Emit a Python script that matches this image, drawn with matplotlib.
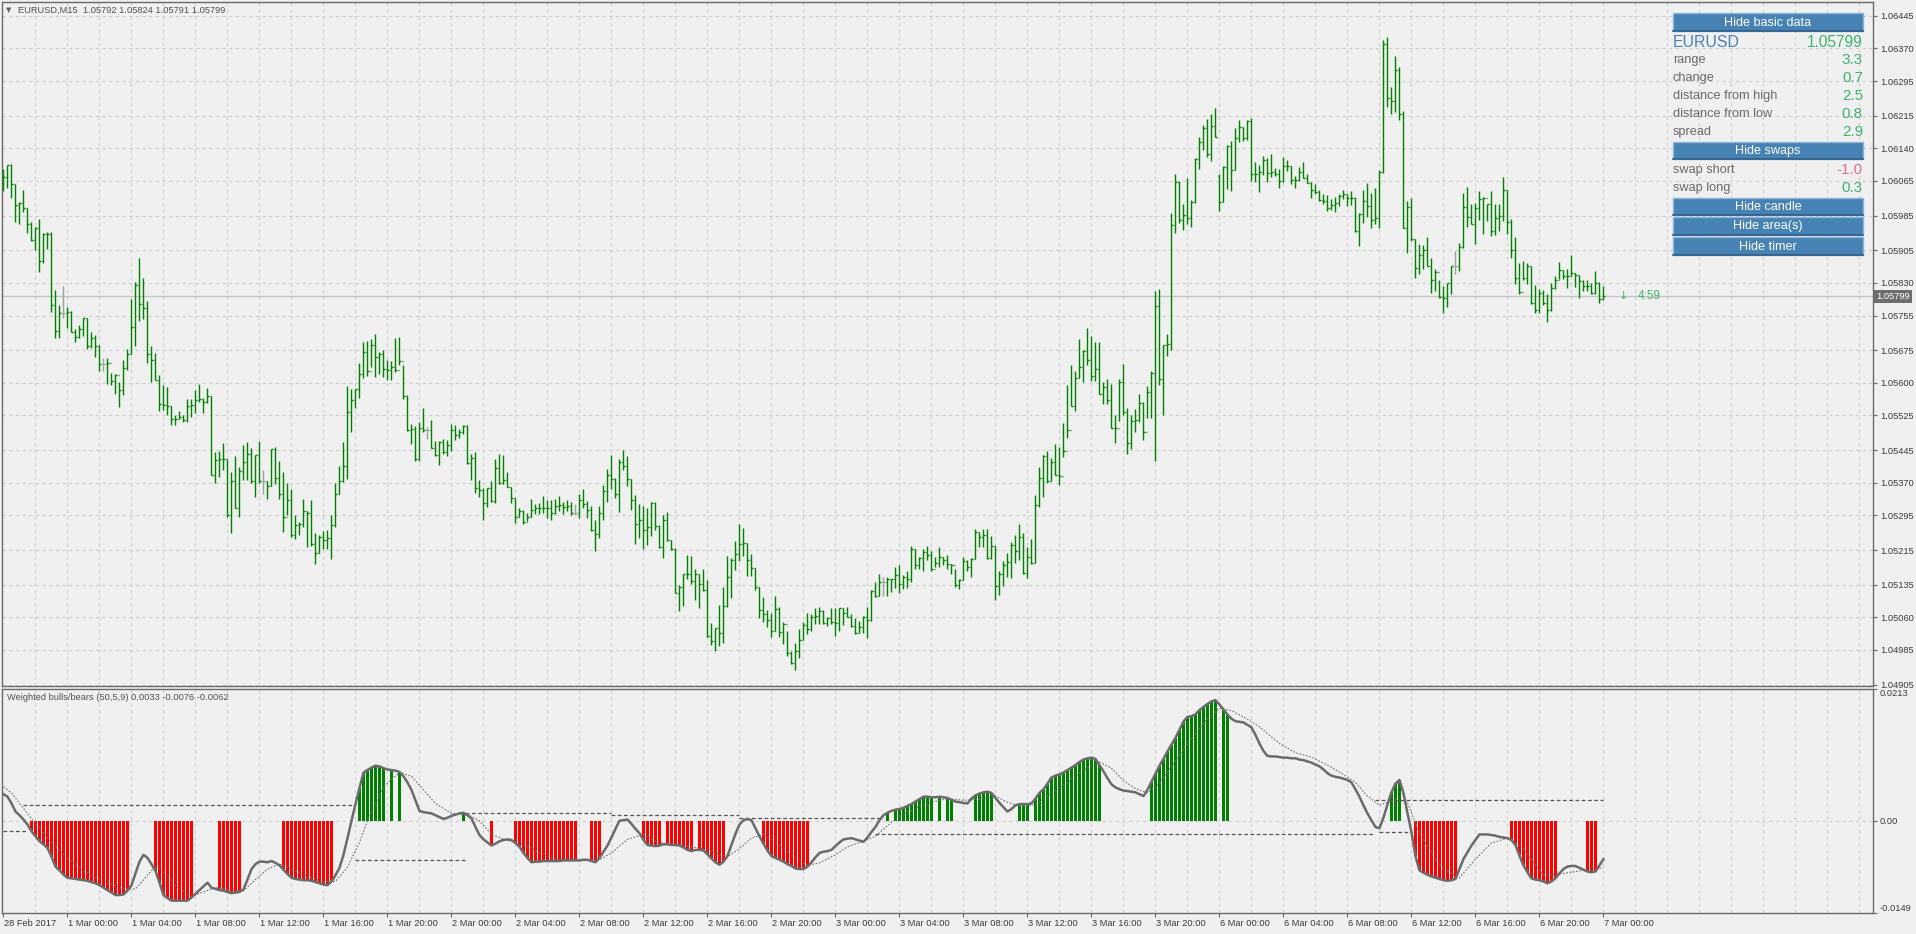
import matplotlib
matplotlib.use("Agg")
import matplotlib.pyplot as plt
import matplotlib.transforms as mtrans
from matplotlib.collections import LineCollection
from matplotlib.patches import Rectangle
import numpy as np

plt.rcParams['font.family'] = ['Liberation Sans', 'DejaVu Sans']

# ---------------- DATA ----------------
# EURUSD M15 bars, 28 Feb 2017 20:00 .. 7 Mar 2017 00:00 (one value per bar)
highs = [
    1.06092, 1.06101, 1.06103, 1.06059, 1.06016, 1.06044, 1.06002, 1.05970, 1.05958, 1.05977, 1.05944, 1.05947, 1.05947, 1.05814, 1.05779, 1.05823, 1.05774, 1.05766, 1.05724, 1.05733,
    1.05749, 1.05749, 1.05716, 1.05710, 1.05687, 1.05657, 1.05657, 1.05622, 1.05620, 1.05601, 1.05653, 1.05677, 1.05793, 1.05832, 1.05888, 1.05842, 1.05789, 1.05685, 1.05668, 1.05618,
    1.05595, 1.05591, 1.05547, 1.05526, 1.05536, 1.05525, 1.05563, 1.05562, 1.05584, 1.05597, 1.05565, 1.05588, 1.05570, 1.05440, 1.05442, 1.05461, 1.05424, 1.05394, 1.05432, 1.05407,
    1.05456, 1.05463, 1.05451, 1.05434, 1.05465, 1.05400, 1.05374, 1.05448, 1.05452, 1.05420, 1.05395, 1.05369, 1.05356, 1.05295, 1.05279, 1.05333, 1.05304, 1.05331, 1.05254, 1.05250,
    1.05258, 1.05262, 1.05296, 1.05369, 1.05409, 1.05463, 1.05593, 1.05585, 1.05585, 1.05645, 1.05693, 1.05697, 1.05701, 1.05712, 1.05672, 1.05676, 1.05653, 1.05651, 1.05703, 1.05705,
    1.05640, 1.05573, 1.05506, 1.05500, 1.05509, 1.05541, 1.05499, 1.05514, 1.05466, 1.05466, 1.05470, 1.05468, 1.05505, 1.05502, 1.05493, 1.05502, 1.05502, 1.05437, 1.05441, 1.05376,
    1.05357, 1.05357, 1.05374, 1.05424, 1.05437, 1.05433, 1.05394, 1.05361, 1.05336, 1.05313, 1.05308, 1.05301, 1.05332, 1.05321, 1.05324, 1.05339, 1.05330, 1.05330, 1.05332, 1.05339,
    1.05325, 1.05330, 1.05325, 1.05321, 1.05345, 1.05355, 1.05328, 1.05317, 1.05284, 1.05317, 1.05364, 1.05401, 1.05433, 1.05381, 1.05424, 1.05446, 1.05431, 1.05378, 1.05341, 1.05322,
    1.05316, 1.05312, 1.05325, 1.05325, 1.05272, 1.05295, 1.05302, 1.05239, 1.05220, 1.05134, 1.05161, 1.05203, 1.05201, 1.05171, 1.05161, 1.05171, 1.05146, 1.05048, 1.05036, 1.05088,
    1.05129, 1.05201, 1.05196, 1.05236, 1.05275, 1.05265, 1.05232, 1.05205, 1.05173, 1.05129, 1.05106, 1.05078, 1.05071, 1.05109, 1.05083, 1.05050, 1.05029, 1.04983, 1.05002, 1.05033,
    1.05050, 1.05069, 1.05068, 1.05082, 1.05085, 1.05077, 1.05062, 1.05081, 1.05081, 1.05082, 1.05082, 1.05085, 1.05067, 1.05059, 1.05052, 1.05064, 1.05085, 1.05123, 1.05141, 1.05161,
    1.05152, 1.05154, 1.05148, 1.05177, 1.05180, 1.05157, 1.05167, 1.05225, 1.05218, 1.05199, 1.05218, 1.05225, 1.05214, 1.05200, 1.05223, 1.05200, 1.05203, 1.05184, 1.05172, 1.05149,
    1.05199, 1.05193, 1.05197, 1.05264, 1.05256, 1.05264, 1.05264, 1.05248, 1.05225, 1.05167, 1.05190, 1.05208, 1.05233, 1.05249, 1.05276, 1.05254, 1.05223, 1.05241, 1.05342, 1.05407,
    1.05433, 1.05442, 1.05427, 1.05460, 1.05453, 1.05507, 1.05595, 1.05641, 1.05628, 1.05701, 1.05676, 1.05726, 1.05708, 1.05695, 1.05693, 1.05602, 1.05608, 1.05598, 1.05525, 1.05609,
    1.05643, 1.05542, 1.05526, 1.05540, 1.05574, 1.05555, 1.05593, 1.05628, 1.05812, 1.05816, 1.05687, 1.05712, 1.05992, 1.06081, 1.06065, 1.06012, 1.06072, 1.06021, 1.06118, 1.06165,
    1.06193, 1.06207, 1.06219, 1.06232, 1.06081, 1.06099, 1.06147, 1.06157, 1.06186, 1.06205, 1.06190, 1.06206, 1.06209, 1.06108, 1.06101, 1.06122, 1.06118, 1.06126, 1.06094, 1.06092,
    1.06119, 1.06113, 1.06099, 1.06076, 1.06098, 1.06108, 1.06082, 1.06063, 1.06059, 1.06044, 1.06036, 1.06032, 1.06023, 1.06027, 1.06035, 1.06045, 1.06036, 1.06042, 1.06028, 1.05990,
    1.06044, 1.06061, 1.06038, 1.06049, 1.06091, 1.06389, 1.06397, 1.06282, 1.06352, 1.06328, 1.06226, 1.06019, 1.06025, 1.05931, 1.05920, 1.05917, 1.05935, 1.05887, 1.05862, 1.05837,
    1.05823, 1.05831, 1.05870, 1.05904, 1.05921, 1.06038, 1.06050, 1.06012, 1.06015, 1.06042, 1.06027, 1.06013, 1.06042, 1.06013, 1.06011, 1.06075, 1.06044, 1.05977, 1.05935, 1.05877,
    1.05881, 1.05877, 1.05869, 1.05825, 1.05816, 1.05814, 1.05804, 1.05829, 1.05845, 1.05878, 1.05861, 1.05862, 1.05894, 1.05854, 1.05848, 1.05837, 1.05837, 1.05831, 1.05858, 1.05833,
    1.05824,
]
lows = [
    1.06042, 1.06049, 1.06025, 1.05971, 1.05965, 1.05993, 1.05946, 1.05927, 1.05907, 1.05856, 1.05875, 1.05909, 1.05764, 1.05704, 1.05704, 1.05750, 1.05727, 1.05716, 1.05693, 1.05704,
    1.05709, 1.05677, 1.05681, 1.05660, 1.05628, 1.05628, 1.05597, 1.05595, 1.05574, 1.05545, 1.05571, 1.05629, 1.05666, 1.05686, 1.05743, 1.05747, 1.05645, 1.05601, 1.05607, 1.05536,
    1.05537, 1.05525, 1.05503, 1.05502, 1.05517, 1.05509, 1.05511, 1.05522, 1.05530, 1.05555, 1.05530, 1.05553, 1.05387, 1.05369, 1.05384, 1.05400, 1.05292, 1.05254, 1.05311, 1.05292,
    1.05377, 1.05377, 1.05369, 1.05337, 1.05369, 1.05344, 1.05333, 1.05363, 1.05367, 1.05333, 1.05256, 1.05295, 1.05246, 1.05241, 1.05250, 1.05269, 1.05223, 1.05225, 1.05183, 1.05208,
    1.05218, 1.05217, 1.05194, 1.05267, 1.05344, 1.05371, 1.05379, 1.05488, 1.05542, 1.05565, 1.05612, 1.05616, 1.05637, 1.05614, 1.05621, 1.05614, 1.05607, 1.05607, 1.05626, 1.05641,
    1.05562, 1.05489, 1.05459, 1.05420, 1.05420, 1.05486, 1.05470, 1.05449, 1.05432, 1.05410, 1.05436, 1.05431, 1.05443, 1.05468, 1.05472, 1.05482, 1.05414, 1.05376, 1.05347, 1.05338,
    1.05284, 1.05315, 1.05325, 1.05324, 1.05366, 1.05367, 1.05361, 1.05324, 1.05278, 1.05290, 1.05275, 1.05282, 1.05292, 1.05299, 1.05299, 1.05301, 1.05289, 1.05285, 1.05299, 1.05305,
    1.05299, 1.05305, 1.05295, 1.05295, 1.05289, 1.05312, 1.05289, 1.05259, 1.05213, 1.05243, 1.05285, 1.05326, 1.05355, 1.05336, 1.05303, 1.05399, 1.05362, 1.05307, 1.05230, 1.05243,
    1.05217, 1.05226, 1.05248, 1.05261, 1.05220, 1.05197, 1.05236, 1.05215, 1.05115, 1.05075, 1.05087, 1.05148, 1.05137, 1.05101, 1.05082, 1.05121, 1.05015, 1.04996, 1.04983, 1.04994,
    1.05002, 1.05085, 1.05105, 1.05169, 1.05190, 1.05202, 1.05155, 1.05155, 1.05123, 1.05059, 1.05050, 1.05037, 1.05015, 1.05029, 1.05015, 1.04999, 1.04972, 1.04952, 1.04939, 1.04967,
    1.05008, 1.05022, 1.05029, 1.05045, 1.05045, 1.05044, 1.05041, 1.05044, 1.05018, 1.05029, 1.05042, 1.05060, 1.05037, 1.05022, 1.05025, 1.05025, 1.05013, 1.05052, 1.05108, 1.05109,
    1.05109, 1.05110, 1.05118, 1.05128, 1.05116, 1.05126, 1.05128, 1.05141, 1.05171, 1.05171, 1.05167, 1.05193, 1.05166, 1.05175, 1.05175, 1.05181, 1.05171, 1.05160, 1.05131, 1.05125,
    1.05145, 1.05166, 1.05152, 1.05195, 1.05221, 1.05221, 1.05195, 1.05194, 1.05099, 1.05111, 1.05133, 1.05152, 1.05151, 1.05185, 1.05193, 1.05160, 1.05151, 1.05184, 1.05185, 1.05315,
    1.05338, 1.05369, 1.05373, 1.05387, 1.05365, 1.05430, 1.05474, 1.05546, 1.05536, 1.05612, 1.05603, 1.05640, 1.05605, 1.05605, 1.05574, 1.05552, 1.05551, 1.05496, 1.05461, 1.05513,
    1.05525, 1.05436, 1.05448, 1.05488, 1.05511, 1.05469, 1.05519, 1.05518, 1.05419, 1.05594, 1.05526, 1.05663, 1.05676, 1.05946, 1.05969, 1.05952, 1.05966, 1.05959, 1.06015, 1.06092,
    1.06137, 1.06121, 1.06111, 1.06167, 1.05996, 1.06017, 1.06046, 1.06042, 1.06090, 1.06155, 1.06157, 1.06159, 1.06065, 1.06063, 1.06040, 1.06078, 1.06063, 1.06075, 1.06077, 1.06049,
    1.06063, 1.06088, 1.06059, 1.06049, 1.06065, 1.06071, 1.06061, 1.06026, 1.06036, 1.06019, 1.06013, 1.05996, 1.05998, 1.05994, 1.06008, 1.06023, 1.06008, 1.06009, 1.05948, 1.05916,
    1.05969, 1.05982, 1.05957, 1.05965, 1.05957, 1.06084, 1.06236, 1.06220, 1.06224, 1.06205, 1.05956, 1.05898, 1.05927, 1.05841, 1.05850, 1.05862, 1.05869, 1.05806, 1.05812, 1.05795,
    1.05762, 1.05775, 1.05804, 1.05850, 1.05858, 1.05911, 1.05958, 1.05965, 1.05919, 1.05975, 1.05943, 1.05973, 1.05939, 1.05940, 1.05950, 1.05973, 1.05942, 1.05887, 1.05827, 1.05804,
    1.05838, 1.05827, 1.05781, 1.05760, 1.05762, 1.05779, 1.05741, 1.05766, 1.05815, 1.05839, 1.05839, 1.05819, 1.05845, 1.05820, 1.05796, 1.05812, 1.05812, 1.05805, 1.05805, 1.05785,
    1.05791,
]
closes = [
    1.06075, 1.06101, 1.06058, 1.06009, 1.06015, 1.06002, 1.05966, 1.05928, 1.05956, 1.05881, 1.05942, 1.05943, 1.05779, 1.05719, 1.05760, 1.05760, 1.05764, 1.05716, 1.05705, 1.05725,
    1.05749, 1.05685, 1.05703, 1.05685, 1.05643, 1.05643, 1.05645, 1.05604, 1.05618, 1.05584, 1.05635, 1.05666, 1.05729, 1.05825, 1.05781, 1.05772, 1.05666, 1.05652, 1.05607, 1.05551,
    1.05549, 1.05547, 1.05517, 1.05517, 1.05522, 1.05515, 1.05547, 1.05548, 1.05560, 1.05563, 1.05555, 1.05570, 1.05387, 1.05423, 1.05424, 1.05424, 1.05296, 1.05374, 1.05313, 1.05396,
    1.05417, 1.05436, 1.05373, 1.05434, 1.05373, 1.05373, 1.05363, 1.05447, 1.05382, 1.05344, 1.05292, 1.05331, 1.05249, 1.05273, 1.05275, 1.05304, 1.05301, 1.05229, 1.05208, 1.05244,
    1.05239, 1.05242, 1.05273, 1.05344, 1.05373, 1.05409, 1.05534, 1.05561, 1.05585, 1.05620, 1.05671, 1.05628, 1.05687, 1.05660, 1.05667, 1.05631, 1.05630, 1.05637, 1.05630, 1.05650,
    1.05570, 1.05491, 1.05493, 1.05424, 1.05495, 1.05491, 1.05491, 1.05451, 1.05435, 1.05463, 1.05440, 1.05456, 1.05492, 1.05479, 1.05487, 1.05501, 1.05416, 1.05428, 1.05359, 1.05353,
    1.05324, 1.05357, 1.05328, 1.05405, 1.05370, 1.05377, 1.05361, 1.05336, 1.05292, 1.05305, 1.05280, 1.05292, 1.05308, 1.05311, 1.05311, 1.05311, 1.05312, 1.05301, 1.05317, 1.05318,
    1.05315, 1.05316, 1.05301, 1.05301, 1.05330, 1.05322, 1.05308, 1.05262, 1.05251, 1.05301, 1.05351, 1.05389, 1.05378, 1.05345, 1.05418, 1.05409, 1.05378, 1.05331, 1.05275, 1.05285,
    1.05262, 1.05267, 1.05324, 1.05270, 1.05223, 1.05285, 1.05238, 1.05217, 1.05117, 1.05129, 1.05160, 1.05160, 1.05144, 1.05159, 1.05138, 1.05124, 1.05017, 1.05006, 1.05035, 1.05023,
    1.05086, 1.05154, 1.05193, 1.05207, 1.05230, 1.05232, 1.05193, 1.05173, 1.05129, 1.05078, 1.05068, 1.05054, 1.05029, 1.05079, 1.05027, 1.05045, 1.04977, 1.04954, 1.04983, 1.05009,
    1.05042, 1.05033, 1.05060, 1.05064, 1.05075, 1.05046, 1.05058, 1.05050, 1.05046, 1.05081, 1.05071, 1.05062, 1.05041, 1.05025, 1.05039, 1.05062, 1.05054, 1.05121, 1.05109, 1.05142,
    1.05142, 1.05148, 1.05149, 1.05157, 1.05137, 1.05153, 1.05148, 1.05217, 1.05181, 1.05197, 1.05210, 1.05203, 1.05171, 1.05185, 1.05199, 1.05193, 1.05184, 1.05180, 1.05135, 1.05147,
    1.05190, 1.05177, 1.05195, 1.05256, 1.05244, 1.05250, 1.05197, 1.05225, 1.05133, 1.05160, 1.05181, 1.05187, 1.05227, 1.05213, 1.05246, 1.05162, 1.05199, 1.05185, 1.05318, 1.05381,
    1.05432, 1.05375, 1.05417, 1.05388, 1.05386, 1.05442, 1.05492, 1.05547, 1.05611, 1.05636, 1.05674, 1.05653, 1.05615, 1.05632, 1.05574, 1.05590, 1.05561, 1.05496, 1.05496, 1.05602,
    1.05534, 1.05461, 1.05513, 1.05515, 1.05553, 1.05486, 1.05580, 1.05622, 1.05778, 1.05610, 1.05687, 1.05689, 1.05963, 1.06063, 1.05976, 1.05986, 1.05979, 1.06017, 1.06115, 1.06154,
    1.06187, 1.06126, 1.06191, 1.06167, 1.06017, 1.06098, 1.06145, 1.06091, 1.06163, 1.06190, 1.06163, 1.06203, 1.06081, 1.06082, 1.06086, 1.06114, 1.06084, 1.06086, 1.06080, 1.06065,
    1.06099, 1.06100, 1.06067, 1.06068, 1.06086, 1.06071, 1.06061, 1.06044, 1.06040, 1.06021, 1.06019, 1.06002, 1.06009, 1.06015, 1.06031, 1.06034, 1.06025, 1.06026, 1.05950, 1.05988,
    1.06019, 1.06007, 1.05975, 1.05980, 1.06086, 1.06380, 1.06255, 1.06249, 1.06320, 1.06218, 1.05957, 1.06006, 1.05931, 1.05865, 1.05894, 1.05906, 1.05870, 1.05837, 1.05856, 1.05797,
    1.05795, 1.05829, 1.05868, 1.05868, 1.05914, 1.06004, 1.05983, 1.05965, 1.06002, 1.06023, 1.06025, 1.06011, 1.05950, 1.05980, 1.05985, 1.06044, 1.05971, 1.05906, 1.05841, 1.05810,
    1.05841, 1.05868, 1.05783, 1.05768, 1.05806, 1.05785, 1.05768, 1.05818, 1.05838, 1.05861, 1.05845, 1.05846, 1.05854, 1.05848, 1.05835, 1.05824, 1.05823, 1.05808, 1.05831, 1.05792,
    1.05799,
]
first_open = 1.06060
monday_bar = 304          # 6 Mar 00:00, first bar after the weekend gap
monday_open = 1.06077
doji_bars = [15, 25, 65, 106, 143, 220, 363]   # open == close, drawn grey

# Weighted bulls/bears (50,5,9) main line, one value per bar, units of 0.0001
main_e4 = [
    43, 39, 28, 15, 9, 2, -6, -17, -25, -33, -38, -44, -58, -74, -80, -87, -92, -93, -94, -95,
    -96, -97, -99, -101, -104, -108, -112, -116, -120, -120, -119, -113, -104, -85, -66, -55, -60, -70, -81, -100,
    -120, -125, -129, -129, -129, -129, -129, -124, -118, -112, -106, -100, -108, -110, -112, -113, -115, -117, -116, -115,
    -111, -95, -78, -70, -66, -66, -67, -65, -68, -72, -79, -86, -92, -94, -95, -96, -96, -97, -99, -101,
    -103, -104, -98, -88, -76, -55, -28, 0, 27, 53, 78, 82, 86, 89, 88, 85, 83, 82, 81, 79,
    72, 62, 50, 33, 16, 14, 13, 12, 9, 6, 3, 5, 8, 10, 12, 13, 9, 4, -10, -23,
    -30, -35, -40, -37, -33, -31, -30, -31, -36, -42, -52, -60, -67, -66, -66, -65, -65, -65, -65, -65,
    -64, -64, -64, -64, -64, -63, -63, -65, -67, -60, -50, -40, -27, -13, 0, 1, 2, -5, -13, -20,
    -31, -39, -40, -41, -40, -38, -38, -39, -39, -40, -43, -47, -49, -47, -47, -48, -54, -61, -67, -71,
    -66, -57, -39, -21, -6, 1, 3, 1, -12, -25, -37, -48, -57, -60, -63, -66, -70, -73, -77, -78,
    -78, -74, -67, -59, -52, -50, -49, -47, -41, -35, -30, -29, -28, -30, -32, -34, -27, -18, -10, 1,
    9, 13, 16, 18, 19, 21, 24, 27, 31, 35, 39, 39, 38, 38, 39, 38, 37, 34, 31, 30,
    29, 28, 36, 41, 44, 46, 47, 45, 37, 29, 22, 15, 19, 25, 27, 27, 27, 28, 36, 45,
    51, 60, 70, 73, 75, 78, 82, 86, 90, 95, 99, 101, 102, 100, 90, 80, 69, 59, 54, 51,
    49, 48, 47, 46, 43, 40, 50, 63, 76, 89, 100, 112, 123, 134, 147, 160, 168, 169, 172, 179,
    184, 189, 193, 195, 188, 180, 172, 165, 161, 160, 159, 155, 151, 139, 125, 113, 105, 104, 104, 103,
    102, 102, 101, 101, 99, 98, 96, 94, 91, 88, 83, 77, 73, 71, 70, 68, 66, 62, 51, 39,
    25, 12, 1, -10, -12, 5, 26, 46, 60, 66, 45, 13, -18, -57, -80, -84, -87, -90, -92, -94,
    -96, -97, -96, -94, -78, -62, -51, -40, -31, -22, -22, -22, -23, -24, -26, -27, -28, -31, -39, -56,
    -72, -83, -93, -95, -96, -98, -101, -98, -93, -85, -78, -74, -73, -73, -76, -79, -82, -83, -82, -72,
    -62,
]
# signal line (thin dotted), read at these bars, units of 0.0001
sig_bars = [0, 2, 5, 8, 12, 16, 20, 25, 30, 33, 36, 38, 40, 43, 47, 50, 53, 57, 60, 63,
            66, 69, 72, 76, 80, 83, 86, 89, 91, 95, 99, 102, 105, 108, 112, 116, 119, 122, 126, 130,
            134, 138, 145, 149, 152, 156, 160, 163, 166, 170, 174, 178, 181, 184, 187, 190, 193, 197, 201, 204,
            208, 211, 215, 218, 221, 224, 228, 232, 236, 240, 244, 248, 251, 254, 258, 262, 266, 270, 274, 277,
            280, 283, 286, 289, 292, 296, 300, 304, 307, 310, 314, 319, 323, 327, 331, 335, 338, 341, 344, 348,
            351, 354, 358, 360, 364, 368, 372, 376, 380, 385, 390, 395, 400]
sig_e4 = [55, 45, 20, -5, -35, -60, -82, -97, -110, -110, -88, -73, -82, -105, -122, -115, -108, -112, -113, -95,
          -78, -70, -78, -90, -98, -98, -75, -35, 0, 55, 78, 72, 50, 28, 12, 10, 0, -22, -32, -37,
          -52, -62, -64, -63, -52, -30, -22, -33, -38, -40, -44, -52, -58, -45, -28, -22, -35, -55, -72, -68,
          -55, -42, -33, -25, -8, 8, 20, 30, 36, 33, 35, 40, 30, 24, 26, 45, 62, 82, 95, 85,
          65, 52, 45, 60, 88, 125, 158, 182, 178, 168, 152, 125, 110, 103, 90, 75, 62, 40, 25, 35,
          30, -20, -62, -78, -92, -62, -36, -28, -45, -88, -85, -80, -76]
# dashed level lines: (first bar, last bar, value in 0.0001)
upper_levels = [(5, 88, 26), (114, 152, 12), (152, 184, 9), (184, 220, 5), (343, 400, 33)]
lower_levels = [(0, 6, -17), (88, 116, -63), (218, 343, -21), (344, 352, -18)]
# histogram runs (first bar, last bar)
red_runs = [(7, 31), (38, 47), (54, 59), (70, 82), (122, 122), (128, 143), (147, 149),
            (160, 180), (190, 201), (353, 363), (377, 388), (396, 398)]
green_runs = [(89, 99), (115, 115), (221, 237), (243, 247), (254, 256), (258, 274),
              (287, 306), (347, 349)]
hist_skip = [96, 98, 165, 173, 222, 233, 235, 304]

price_ticks = [1.06445, 1.06370, 1.06295, 1.06215, 1.06140, 1.06065, 1.05985, 1.05905,
               1.05830, 1.05755, 1.05675, 1.05600, 1.05525, 1.05445, 1.05370, 1.05295,
               1.05215, 1.05135, 1.05060, 1.04985, 1.04905]
ind_ticks = [-0.0149, 0.0, 0.0213]
ind_tick_labels = ['-0.0149', '0.00', '0.0213']
time_labels = ['28 Feb 2017', '1 Mar 00:00', '1 Mar 04:00', '1 Mar 08:00', '1 Mar 12:00', '1 Mar 16:00',
               '1 Mar 20:00', '2 Mar 00:00', '2 Mar 04:00', '2 Mar 08:00', '2 Mar 12:00', '2 Mar 16:00',
               '2 Mar 20:00', '3 Mar 00:00', '3 Mar 04:00', '3 Mar 08:00', '3 Mar 12:00', '3 Mar 16:00',
               '3 Mar 20:00', '6 Mar 00:00', '6 Mar 04:00', '6 Mar 08:00', '6 Mar 12:00', '6 Mar 16:00',
               '6 Mar 20:00', '7 Mar 00:00']
last_price = 1.05799
title = 'EURUSD,M15  1.05792 1.05824 1.05791 1.05799'
ind_title = 'Weighted bulls/bears (50,5,9) 0.0033 -0.0076 -0.0062'
timer_text = '4:59'

button_labels = ['Hide basic data', 'Hide swaps', 'Hide candle', 'Hide area(s)', 'Hide timer']
info_labels = ['range', 'change', 'distance from high', 'distance from low', 'spread']
info_values = ['3.3', '0.7', '2.5', '0.8', '2.9']
swap_labels = ['swap short', 'swap long']
swap_values = ['-1.0', '0.3']

# ---------------- STYLE ----------------
BG = '#f0f0f0'
GRID = '#cdcdcd'
FRAME = '#6a6a6a'
BAR_GREEN = '#008000'
STEEL = '#4682b4'
SEA = '#3cb371'
LABEL = '#696969'

W, H = 1916, 934
fig = plt.figure(figsize=(W / 100, H / 100), dpi=100, facecolor=BG)


def box(x0, y0, x1, y1):
    return [x0 / W, 1 - y1 / H, (x1 - x0) / W, (y1 - y0) / H]


ax = fig.add_axes(box(2, 2, 1873, 686))
ax2 = fig.add_axes(box(2, 689, 1873, 913))

n = len(closes)
assert len(highs) == n and len(lows) == n and len(main_e4) == n
x = np.arange(n)
opens = [first_open] + closes[:-1]
opens[monday_bar] = monday_open

xmin, xmax = -0.375, 467.4
for a in (ax, ax2):
    a.set_facecolor(BG)
    a.set_xlim(xmin, xmax)
    for s in a.spines.values():
        s.set_color(FRAME)
        s.set_linewidth(1.0)
    a.yaxis.tick_right()
    a.tick_params(axis='y', direction='out', length=3, width=0.8, color=FRAME,
                  labelsize=6.7, labelcolor='#3a3a3a', pad=2)
    a.vlines(np.arange(8, xmax, 8), 0, 1, transform=a.get_xaxis_transform(),
             colors=GRID, linestyles=(0, (3, 3)), lw=0.8, zorder=0)

# ---- price pane ----
ax.set_ylim(1.04902, 1.06477)
ax.set_yticks(price_ticks)
ax.set_yticklabels([f'{p:.5f}' for p in price_ticks])
ax.set_xticks([])
ax.hlines(price_ticks, xmin, xmax, colors=GRID, linestyles=(0, (3, 3)), lw=0.8, zorder=0)
ax.axhline(last_price, color='#c4c4c4', lw=1.0, zorder=1)

segs, cols = [], []
for i in range(n):
    c = '#a0a0a0' if i in doji_bars else BAR_GREEN
    segs.append([(i, lows[i]), (i, highs[i])])
    segs.append([(i - 0.45, opens[i]), (i, opens[i])])
    segs.append([(i, closes[i]), (i + 0.45, closes[i])])
    cols += [c, c, c]
ax.add_collection(LineCollection(segs, colors=cols, linewidths=1.0, zorder=3))

ax.text(1.0 + 3 / 1871, last_price, f'{last_price:.5f}', transform=ax.get_yaxis_transform(),
        ha='left', va='center', fontsize=6.7, color='white', zorder=10, clip_on=False,
        bbox=dict(boxstyle='square,pad=0.25', fc='#6e6e6e', ec='none'))
ax.text(n + 4, last_price, '\u2193', color=SEA, fontsize=8, ha='center', va='center',
        family=['DejaVu Sans'])
ax.text(n + 7.6, last_price, timer_text, color=SEA, fontsize=8.5, ha='left', va='center')

# ---- indicator pane ----
main = np.array(main_e4) * 1e-4
ax2.set_ylim(-0.0149, 0.0213)
ax2.axhline(0, color=GRID, lw=0.8, linestyle=(0, (3, 3)), zorder=0)

hx, hh, hc = [], [], []
for runs, col in ((red_runs, '#ff0000'), (green_runs, BAR_GREEN)):
    for a0, a1 in runs:
        for i in range(a0, a1 + 1):
            if i in hist_skip:
                continue
            hx.append(i)
            hh.append(main[i])
            hc.append(col)
ax2.bar(hx, hh, width=0.72, color=hc, linewidth=0, zorder=2)

for a0, a1, v in upper_levels + lower_levels:
    ax2.plot([a0, a1], [v * 1e-4, v * 1e-4], color='#555555', lw=0.9,
             linestyle=(0, (3, 2)), zorder=3)
ax2.plot(sig_bars, np.array(sig_e4) * 1e-4, color='#707070', lw=0.8,
         linestyle=(0, (1.5, 1.5)), zorder=3)
ax2.plot(x, main, color='#6b6b6b', lw=1.8, zorder=4, solid_joinstyle='round')

ax2.set_yticks(ind_ticks)
ax2.set_yticklabels(ind_tick_labels)
ylab = ax2.get_yticklabels()
ylab[0].set_va('bottom')
ylab[2].set_va('top')

ax2.set_xticks(np.arange(0, 16 * len(time_labels), 16))
ax2.set_xticklabels(time_labels, ha='left')
ax2.tick_params(axis='x', direction='out', length=3, width=0.8, color=FRAME,
                labelsize=6.7, labelcolor='#3a3a3a', pad=1)
shift = mtrans.ScaledTranslation(1 / 100, 0, fig.dpi_scale_trans)
for lbl in ax2.get_xticklabels():
    lbl.set_transform(lbl.get_transform() + shift)

# ---- overlay: titles and info panel ----
ov = fig.add_axes([0, 0, 1, 1], facecolor='none')
ov.set_xlim(0, W)
ov.set_ylim(H, 0)
ov.axis('off')

ov.text(6, 10, '\u25bc', fontsize=5, color='#606060', va='center', family=['DejaVu Sans'])
ov.text(18, 10, title, fontsize=6.7, color='#505050', va='center')
ov.text(7, 698, ind_title, fontsize=6.7, color='#505050', va='center')

px0, px1 = 1673, 1863
button_rows = [(13, 31), (142, 159), (198, 215), (217, 235), (237, 255)]
for lab, (y0, y1) in zip(button_labels, button_rows):
    ov.add_patch(Rectangle((px0, y0), px1 - px0, y1 - y0, fc=STEEL, ec='#8db3d8', lw=1.0))
    ov.plot([px0, px1], [y1, y1], color='#2c5a84', lw=1.2)
    ov.text((px0 + px1) / 2, (y0 + y1) / 2 + 0.5, lab, color='white', fontsize=9.1,
            ha='center', va='center')

ov.text(px0, 42.5, 'EURUSD', color=STEEL, fontsize=11.4, va='center')
ov.text(px1, 42.5, f'{last_price:.5f}', color=SEA, fontsize=11.2, va='center', ha='right')
for j, (lab, val) in enumerate(zip(info_labels, info_values)):
    yy = 60 + j * 17.9
    ov.text(px0, yy, lab, color=LABEL, fontsize=9.2, va='center')
    ov.text(px1, yy, val, color=SEA, fontsize=11, va='center', ha='right')
for j, (lab, val) in enumerate(zip(swap_labels, swap_values)):
    yy = 170 + j * 17.7
    ov.text(px0, yy, lab, color=LABEL, fontsize=9.2, va='center')
    ov.text(px1, yy, val, color='#db7093' if val.startswith('-') else SEA,
            fontsize=11, va='center', ha='right')

fig.savefig('out.png', dpi=100, facecolor=BG)
